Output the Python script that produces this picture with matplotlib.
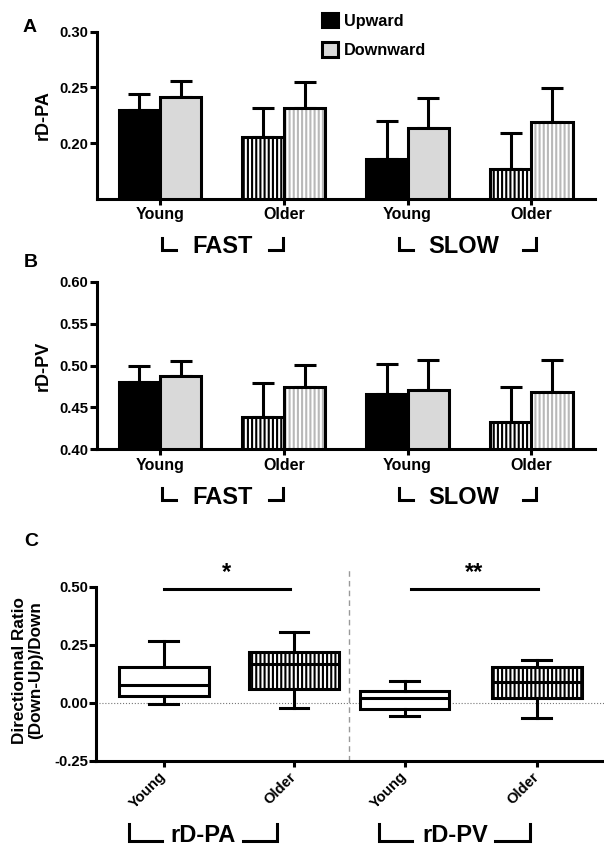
import numpy as np
import matplotlib
matplotlib.use('Agg')
from matplotlib import pyplot as plt
from matplotlib.patches import Patch
import matplotlib.transforms as mtransforms

plt.rcParams['font.family'] = ['Liberation Sans', 'DejaVu Sans']
plt.rcParams['font.weight'] = 'bold'
plt.rcParams['hatch.linewidth'] = 1.5

# Panel A / B data (mean, upper error only)
groups = ['Young', 'Older', 'Young', 'Older']
speeds = ['FAST', 'SLOW']

pa_up = [0.2297, 0.2057, 0.1856, 0.1766]
pa_up_err = [0.0142, 0.0256, 0.0345, 0.0327]
pa_down = [0.2417, 0.2318, 0.2138, 0.2186]
pa_down_err = [0.0144, 0.0229, 0.0265, 0.0307]

pv_up = [0.480, 0.4389, 0.466, 0.4322]
pv_up_err = [0.020, 0.0406, 0.0358, 0.0425]
pv_down = [0.4875, 0.4747, 0.4708, 0.4688]
pv_down_err = [0.0183, 0.0259, 0.0358, 0.0378]

# Panel C data (box plots)
c_names = ['Young', 'Older', 'Young', 'Older']
c_whislo = [-0.006, -0.024, -0.057, -0.067]
c_q1 = [0.029, 0.058, -0.029, 0.019]
c_med = [0.076, 0.165, 0.022, 0.090]
c_q3 = [0.155, 0.220, 0.052, 0.153]
c_whishi = [0.266, 0.306, 0.095, 0.184]
c_measures = ['rD-PA', 'rD-PV']
c_signif = ['*', '**']
c_yticks = [-0.25, 0.0, 0.25, 0.50]

LW = 2.2
fig = plt.figure(figsize=(6.04, 8.5), dpi=100)


def bar_panel(ax, up, up_err, down, down_err, ylim, yticks, ylabel):
    x = np.arange(len(groups))
    w = 0.335
    ax.errorbar(x - w / 2, up, yerr=[np.zeros(len(up)), up_err], fmt='none',
                ecolor='black', elinewidth=LW, capsize=8, capthick=LW, zorder=1)
    ax.errorbar(x + w / 2, down, yerr=[np.zeros(len(down)), down_err], fmt='none',
                ecolor='black', elinewidth=LW, capsize=8, capthick=LW, zorder=1)
    for i, g in enumerate(groups):
        if g == 'Older':
            ax.bar(x[i] - w / 2, up[i], w, facecolor='white', edgecolor='black',
                   hatch='||||', lw=LW, zorder=2)
            ax.bar(x[i] + w / 2, down[i], w, facecolor='white', edgecolor='#b8b8b8',
                   hatch='||||', lw=0, zorder=2)
            ax.bar(x[i] + w / 2, down[i], w, fill=False, edgecolor='black',
                   lw=LW, zorder=3)
        else:
            ax.bar(x[i] - w / 2, up[i], w, facecolor='black', edgecolor='black',
                   lw=LW, zorder=2)
            ax.bar(x[i] + w / 2, down[i], w, facecolor='#d9d9d9', edgecolor='black',
                   lw=LW, zorder=2)

    ax.set_xlim(-0.513, 3.514)
    ax.set_ylim(*ylim)
    ax.set_yticks(yticks)
    ax.set_yticklabels(['%.2f' % v for v in yticks])
    ax.set_xticks(x)
    ax.set_xticklabels(groups)
    ax.spines['top'].set_visible(False)
    ax.spines['right'].set_visible(False)
    ax.spines['left'].set_linewidth(LW)
    ax.spines['bottom'].set_linewidth(LW)
    ax.tick_params(axis='y', direction='out', length=5, width=LW, labelsize=10.7, pad=1)
    ax.tick_params(axis='x', direction='out', length=4, width=LW, labelsize=11.5, pad=2)
    ax.set_ylabel(ylabel, fontsize=13, fontweight='bold')
    ax.yaxis.set_label_coords(-0.089, 0.5)

    # FAST / SLOW brackets below the group labels
    trans = mtransforms.blended_transform_factory(ax.transData, ax.transAxes)
    spans = [(0.02, 0.99), (1.93, 3.04)]
    centers = [0.505, 2.455]
    arm = 0.11
    for (a, b), cx, name in zip(spans, centers, speeds):
        ax.plot([a, a, a + arm], [-0.233, -0.305, -0.305], transform=trans,
                clip_on=False, color='black', lw=LW, solid_joinstyle='miter')
        ax.plot([b - arm, b, b], [-0.305, -0.305, -0.233], transform=trans,
                clip_on=False, color='black', lw=LW, solid_joinstyle='miter')
        ax.text(cx, -0.287, name, transform=trans, ha='center', va='center',
                fontsize=17, fontweight='bold')


# Panel A
ax_a = fig.add_axes([0.1598, 0.7659, 0.8253, 0.1968])
bar_panel(ax_a, pa_up, pa_up_err, pa_down, pa_down_err,
          (0.15, 0.30), [0.20, 0.25, 0.30], 'rD-PA')

# Panel B
ax_b = fig.add_axes([0.1598, 0.4714, 0.8253, 0.1972])
bar_panel(ax_b, pv_up, pv_up_err, pv_down, pv_down_err,
          (0.40, 0.60), [0.40, 0.45, 0.50, 0.55, 0.60], 'rD-PV')

# Legend
handles = [Patch(facecolor='black', edgecolor='black', lw=LW, label='Upward'),
           Patch(facecolor='#d9d9d9', edgecolor='black', lw=LW, label='Downward')]
fig.legend(handles=handles, loc='upper left', bbox_to_anchor=(0.5325, 0.9850),
           frameon=False, borderpad=0, borderaxespad=0, handlelength=1.0,
           handleheight=1.0, handletextpad=0.35, labelspacing=0.85,
           prop={'size': 11.7, 'weight': 'bold'})

# Panel C
ax_c = fig.add_axes([0.1594, 0.1051, 0.8406, 0.2047])
positions = [1.0, 2.0, 2.85, 3.865]
stats = []
for i in range(len(c_names)):
    stats.append(dict(med=c_med[i], q1=c_q1[i], q3=c_q3[i],
                      whislo=c_whislo[i], whishi=c_whishi[i], fliers=[]))
bp = ax_c.bxp(stats, positions=positions, widths=0.69, capwidths=0.22,
              patch_artist=True, showfliers=False, manage_ticks=False,
              boxprops=dict(lw=LW, edgecolor='black', facecolor='white'),
              medianprops=dict(color='black', lw=LW),
              whiskerprops=dict(color='black', lw=LW),
              capprops=dict(color='black', lw=LW))
for box, name in zip(bp['boxes'], c_names):
    if name == 'Older':
        box.set_hatch('||||')

ax_c.axhline(0, color='#777777', lw=0.8, ls=':', zorder=0)
ax_c.plot([2.42, 2.42], [-0.25, 0.586], color='#999999', lw=1.0,
          dashes=(4, 3), clip_on=False, zorder=0)

# significance bars
sig_spans = [(1.0, 1.968), (2.9, 3.875)]
for (a, b), s in zip(sig_spans, c_signif):
    ax_c.plot([a, b], [0.49, 0.49], color='black', lw=LW, clip_on=False)
    ax_c.text((a + b) / 2, 0.56, s, ha='center', va='center',
              fontsize=17, fontweight='bold')

ax_c.set_xlim(0.482, 4.382)
ax_c.set_ylim(-0.25, 0.50)
ax_c.set_yticks(c_yticks)
ax_c.set_yticklabels(['%.2f' % v for v in c_yticks])
ax_c.set_xticks(positions)
ax_c.set_xticklabels(c_names, rotation=45, ha='right', va='center',
                     rotation_mode='anchor', fontweight='bold')
ax_c.spines['top'].set_visible(False)
ax_c.spines['right'].set_visible(False)
ax_c.spines['left'].set_linewidth(LW)
ax_c.spines['bottom'].set_linewidth(LW)
ax_c.tick_params(axis='y', direction='out', length=5, width=LW, labelsize=10.7, pad=1)
ax_c.tick_params(axis='x', direction='out', length=4, width=LW, labelsize=10.7, pad=6)
ax_c.set_ylabel('Directionnal Ratio\n(Down-Up)/Down', fontsize=12.3,
                fontweight='bold', linespacing=1.05)
ax_c.yaxis.set_label_coords(-0.105, 0.52)

trans_c = mtransforms.blended_transform_factory(ax_c.transData, ax_c.transAxes)
c_spans = [(0.734, 1.872), (2.657, 3.811)]
c_centers = [1.30, 3.241]
for (a, b), cx, name in zip(c_spans, c_centers, c_measures):
    ax_c.plot([a, a, a + 0.25], [-0.362, -0.46, -0.46], transform=trans_c,
              clip_on=False, color='black', lw=LW, solid_joinstyle='miter')
    ax_c.plot([b - 0.265, b, b], [-0.46, -0.46, -0.362], transform=trans_c,
              clip_on=False, color='black', lw=LW, solid_joinstyle='miter')
    ax_c.text(cx, -0.431, name, transform=trans_c, ha='center', va='center',
              fontsize=17, fontweight='bold')

# Panel letters
for letter, (px, py) in zip(['A', 'B', 'C'], [(30, 27), (31, 263), (31, 542)]):
    fig.text(px / 604, 1 - py / 850, letter, ha='center', va='center',
             fontsize=14, fontweight='bold')

fig.savefig('out.png', dpi=100)
